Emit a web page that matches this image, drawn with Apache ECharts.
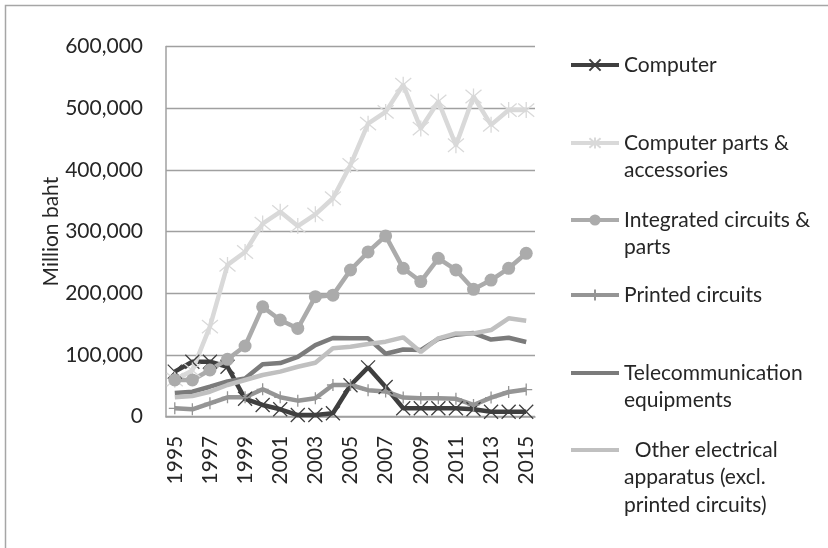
<!DOCTYPE html>
<html>
<head>
<meta charset="utf-8">
<script src="https://cdn.jsdelivr.net/npm/echarts@6/dist/echarts.min.js"></script>
<style>
  html, body { margin: 0; padding: 0; background: #fff; }
  #chart { width: 828px; height: 548px; }
</style>
</head>
<body>
<div id="chart"></div>
<script>
// ---- Data ----
var years = ['1995','1996','1997','1998','1999','2000','2001','2002','2003','2004','2005','2006','2007','2008','2009','2010','2011','2012','2013','2014','2015'];
var computer = [73000, 89000, 89000, 81000, 29000, 19000, 12000, 2700, 2700, 5500, 51000, 80000, 48000, 13600, 13600, 13600, 13600, 12000, 8000, 8000, 8000];
var computerParts = [60000, 75000, 146000, 246000, 267000, 313000, 332000, 309000, 328000, 354000, 408000, 475000, 494000, 538000, 467000, 511000, 440000, 519000, 473000, 497000, 497000];
var integratedCircuits = [59500, 59500, 75700, 93000, 114600, 178000, 156700, 143000, 194500, 197000, 237800, 267000, 293000, 240500, 219000, 256700, 237800, 206500, 221500, 240500, 264800];
var printedCircuits = [13600, 12000, 21700, 31400, 31400, 44400, 31400, 26000, 29800, 51400, 51400, 43000, 41000, 31000, 30000, 30000, 29000, 19000, 31000, 40000, 44000];
var telecom = [38500, 40500, 48600, 57000, 62000, 85000, 87000, 97000, 116000, 127500, 127000, 127000, 102000, 109000, 108000, 126000, 133000, 135500, 125000, 128000, 121000];
var otherElectrical = [31400, 33500, 40500, 51400, 59500, 67600, 73000, 81000, 87500, 110800, 113400, 117800, 121600, 128600, 105000, 127000, 135000, 135000, 140500, 159500, 155600];
var yTicks = [0, 100000, 200000, 300000, 400000, 500000, 600000];

var seriesNames = ['Computer', 'Computer parts & accessories', 'Integrated circuits & parts', 'Printed circuits', 'Telecommunication equipments', 'Other electrical apparatus (excl. printed circuits)'];
var legendLines = [
  ['Computer'],
  ['Computer parts &', 'accessories'],
  ['Integrated circuits &', 'parts'],
  ['Printed circuits'],
  ['Telecommunication', 'equipments'],
  ['  Other electrical', 'apparatus (excl.', 'printed circuits)']
];

// ---- Styling ----
var FONT = 'Lato';
var FS = 21;
var TXT = '#262626';
var colors = ['#3f3f3f', '#d9d9d9', '#ababab', '#959595', '#7b7b7b', '#c0c0c0'];
var symbols = [
  'path://M0,0L10,10M10,0L0,10',
  'path://M0,0L10,10M10,0L0,10M5,-1L5,11',
  'circle',
  'path://M5,0L5,10M0,5L10,5',
  'none',
  'none'
];
var symbolSizes = [14, 16, 13, 12, 0, 0];
var dataList = [computer, computerParts, integratedCircuits, printedCircuits, telecom, otherElectrical];
var iconCenters = [65, 143, 220, 295, 373, 450];
var LH = 27.5;

var series = dataList.map(function (d, i) {
  var isPath = symbols[i].indexOf('path://') === 0;
  return {
    name: seriesNames[i],
    type: 'line',
    data: d,
    symbol: symbols[i],
    symbolSize: symbolSizes[i],
    showAllSymbol: true,
    lineStyle: { color: colors[i], width: 4.5 },
    itemStyle: isPath ? { color: colors[i], borderColor: colors[i], borderWidth: 1.3 } : { color: colors[i], borderWidth: 0 },
    emphasis: { disabled: true },
    animation: false
  };
});

var legends = seriesNames.map(function (name, i) {
  var n = legendLines[i].length;
  var B = (2 * n - 1) * LH;
  var blank = [];
  for (var k = 0; k < n - 1; k++) blank.push('');
  var txt = blank.concat(legendLines[i]).join('\n');
  var lg = {
    orient: 'vertical',
    left: 569,
    top: iconCenters[i] - B / 2,
    padding: 0,
    itemWidth: 48,
    itemHeight: 14,
    data: [name],
    selectedMode: false,
    lineStyle: { width: 4 },
    formatter: function () { return txt; },
    textStyle: {
      fontFamily: FONT, fontSize: FS, color: TXT,
      lineHeight: LH
    }
  };
  if (symbols[i] === 'none') {
    lg.itemStyle = { opacity: 0 };
  }
  return lg;
});

var chart = echarts.init(document.getElementById('chart'), null, { renderer: 'canvas' });
chart.setOption({
  backgroundColor: '#ffffff',
  animation: false,
  grid: { left: 166, right: 293, top: 46.5, bottom: 131.3, containLabel: false },
  graphic: [{
    type: 'rect',
    shape: { x: 5.5, y: 5.5, width: 900, height: 900 },
    style: { fill: 'none', stroke: '#a6a6a6', lineWidth: 1.5 },
    silent: true
  }],
  legend: legends,
  xAxis: {
    type: 'category',
    data: years,
    boundaryGap: true,
    axisLine: { show: true, lineStyle: { color: '#a0a0a0', width: 1.5 } },
    axisTick: { show: false },
    axisLabel: {
      interval: 1, rotate: 90, margin: 19,
      fontFamily: FONT, fontSize: FS, color: TXT
    },
    splitLine: { show: false }
  },
  yAxis: {
    type: 'value',
    min: 0, max: 600000, interval: 100000,
    name: 'Million baht',
    nameLocation: 'middle',
    nameGap: 104,
    nameRotate: 90,
    nameTextStyle: { fontFamily: FONT, fontSize: FS, color: TXT },
    axisLine: { show: true, lineStyle: { color: '#a0a0a0', width: 1.5 } },
    axisTick: { show: false },
    axisLabel: {
      margin: 23,
      fontFamily: FONT, fontSize: FS, color: TXT,
      formatter: function (v) { return yTicks.indexOf(v) >= 0 ? v.toLocaleString('en-US') : ''; }
    },
    splitLine: { show: true, lineStyle: { color: '#a0a0a0', width: 1.3 } }
  },
  series: series
});
</script>
</body>
</html>
